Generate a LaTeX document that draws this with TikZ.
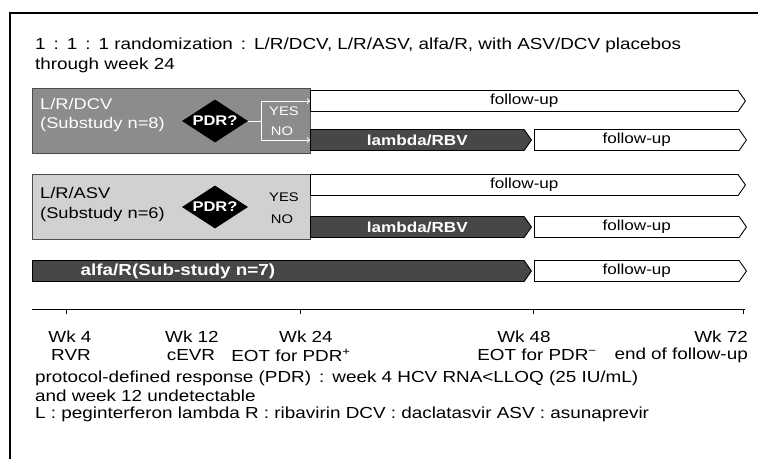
\documentclass[tikz,border=0pt]{standalone}
\usepackage{fontspec}
\setmainfont[FakeStretch=1.18]{Liberation Sans}
\usetikzlibrary{positioning,shapes.geometric,shapes.symbols}
\begin{document}
\begin{tikzpicture}[x=1pt,y=-1pt,
    armbox/.style={draw=black!70, line width=0.8pt, minimum height=65pt,
        minimum width=278pt, anchor=north west, inner sep=0pt},
    bar/.style={signal, signal to=east, signal pointer angle=110, draw=black,
        line width=0.9pt, minimum height=21pt, anchor=west, inner sep=0pt,
        font=\fontsize{14.5}{14.5}\selectfont},
    darkbar/.style={bar, fill=black!72, text=white, font=\fontsize{14.5}{14.5}\selectfont\bfseries},
    fubar/.style={bar, fill=white},
    pdr/.style={diamond, fill=black, text=white, inner sep=0pt, aspect=1.5,
        minimum width=66pt, minimum height=43pt, font=\fontsize{14}{14}\selectfont\bfseries},
    txt/.style={font=\fontsize{16}{16}\selectfont, inner sep=0pt},
    armtxt/.style={font=\fontsize{15.5}{15.5}\selectfont, inner sep=0pt, anchor=west},
    yesno/.style={font=\fontsize{12.5}{12.5}\selectfont, inner sep=0pt}]

    \useasboundingbox (0,0) rectangle (758,459);
    \draw[line width=1.2pt] (10,459) -- (10,13) -- (758,13);

    \node[txt, anchor=west] (title1) at (35,45) {1\enspace:\enspace1\enspace:\enspace1 randomization\enspace:\enspace L/R/DCV, L/R/ASV, alfa/R, with ASV/DCV placebos};
    \node[txt, anchor=west] (title2) at (35,65) {through week 24};

    % L/R/DCV arm
    \node[armbox, fill=black!45] (dcv) at (32,88) {};
    \node[armtxt, text=white] (dcvname) at (40,104) {L/R/DCV};
    \node[armtxt, text=white] (dcvsub) at (40,124) {(Substudy n=8)};
    \node[pdr] (pdr1) at (215,121) {PDR?};
    \node[yesno, text=white] (yes1) at (284,111) {YES};
    \node[yesno, text=white] (no1) at (282,131) {NO};
    \node[fubar, minimum width=435pt] (fu1) at (310,101) {follow-up};
    \node[darkbar, minimum width=221pt] (lam1) at (310,140) {lambda/RBV};
    \node[fubar, minimum width=212pt, right=2pt of lam1] (fu2) {follow-up};
    \coordinate (split) at (261,121);
    \draw[white, line width=1pt] (pdr1.east) -- (split);
    \draw[white, line width=1pt, ->] (split) |- (fu1.west);
    \draw[white, line width=1pt, ->] (split) |- (lam1.west);

    % L/R/ASV arm
    \node[armbox, fill=black!18] (asv) at (32,174) {};
    \node[armtxt] (asvname) at (40,193) {L/R/ASV};
    \node[armtxt] (asvsub) at (40,214) {(Substudy n=6)};
    \node[pdr] (pdr2) at (215,207) {PDR?};
    \node[yesno] (yes2) at (284,197) {YES};
    \node[yesno] (no2) at (282,219) {NO};
    \node[fubar, minimum width=435pt] (fu3) at (310,185) {follow-up};
    \node[darkbar, minimum width=221pt] (lam2) at (310,227) {lambda/RBV};
    \node[fubar, minimum width=212pt, right=2pt of lam2] (fu4) {follow-up};

    % alfa/R arm
    \node[darkbar, minimum width=499pt] (alfa) at (32,271) {};
    \node[txt, text=white, font=\fontsize{16}{16}\selectfont\bfseries] (alfaname) at (178,271) {alfa/R(Sub-study n=7)};
    \node[fubar, minimum width=212pt, right=2pt of alfa] (fu5) {follow-up};

    % weeks
    \coordinate (w0) at (32,309);
    \coordinate (w1) at (745,309);
    \draw[line width=1pt] (w0) -- (w1);
    \foreach \x in {66,300,533,743} {
        \draw (\x,309) -- (\x,314);
    }
    \node[txt] (wk4) at (70,337) {Wk 4};
    \node[txt] (rvr) at (71,355) {RVR};
    \node[txt] (wk12) at (192,337) {Wk 12};
    \node[txt] (cevr) at (191,355) {cEVR};
    \node[txt] (wk24) at (306,337) {Wk 24};
    \node[txt] (eotp) at (291,355) {EOT for PDR\textsuperscript{+}};
    \node[txt] (wk48) at (524,337) {Wk 48};
    \node[txt] (eotm) at (537,355) {EOT for PDR\textsuperscript{−}};
    \node[txt, anchor=east] (wk72) at (748,337) {Wk 72};
    \node[txt, anchor=east] (eofu) at (748,355) {end of follow-up};

    % notes
    \node[txt, anchor=west] (note1) at (35,378) {protocol-defined response (PDR)\enspace:\enspace week 4 HCV RNA<LLOQ (25 IU/mL)};
    \node[txt, anchor=west] (note2) at (35,396) {and week 12 undetectable};
    \node[txt, anchor=west] (note3) at (35,414) {L : peginterferon lambda R : ribavirin DCV : daclatasvir ASV : asunaprevir};
\end{tikzpicture}
\end{document}
